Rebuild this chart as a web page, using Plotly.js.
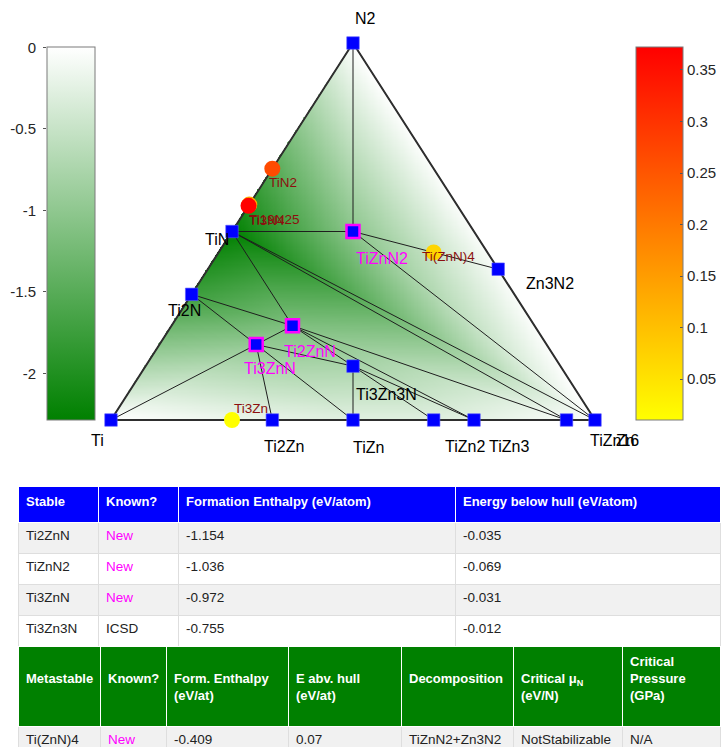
<!DOCTYPE html>
<html>
<head>
<meta charset="utf-8">
<script src="https://cdn.plot.ly/plotly-3.0.1.min.js"></script>
<style>html,body{margin:0;padding:0;background:#fff;overflow:hidden}</style>
</head>
<body>
<div id="chart" style="width:722px;height:747px"></div>
<script>
// ---------- Ti-Zn-N phase data ----------
// Phases on the convex hull: atoms of Ti, Zn, N per formula unit and formation enthalpy (eV/atom)
const hullPhases   = ['Ti', 'Zn', 'N2', 'TiN', 'Ti2N', 'Ti2Zn', 'TiZn', 'TiZn2', 'TiZn3', 'TiZn16', 'Zn3N2', 'TiZnN2', 'Ti2ZnN', 'Ti3ZnN', 'Ti3Zn3N'];
const hullTi       = [1, 0, 0, 1, 2, 2, 1, 1, 1, 1, 0, 1, 2, 3, 3];
const hullZn       = [0, 1, 0, 0, 0, 1, 1, 2, 3, 16, 3, 1, 1, 1, 3];
const hullN        = [0, 0, 2, 1, 1, 0, 0, 0, 0, 0, 2, 2, 1, 1, 1];
const hullEnthalpy = [0, 0, 0, -2.29, -1.75, -0.20, -0.27, -0.27, -0.24, -0.07, -0.06, -1.036, -1.154, -0.972, -0.755];

// Hull facets (tie triangles)
const facets = [
  ['N2', 'TiN', 'TiZnN2'], ['N2', 'TiZnN2', 'Zn3N2'], ['TiZnN2', 'Zn3N2', 'Zn'],
  ['TiN', 'TiZnN2', 'Zn'], ['TiN', 'Zn', 'TiZn16'], ['TiN', 'TiZn16', 'Ti2ZnN'],
  ['TiN', 'Ti2ZnN', 'Ti2N'], ['Ti2N', 'Ti2ZnN', 'Ti3ZnN'], ['Ti', 'Ti2N', 'Ti3ZnN'],
  ['Ti', 'Ti3ZnN', 'Ti2Zn'], ['Ti3ZnN', 'Ti2Zn', 'TiZn'], ['Ti3ZnN', 'TiZn', 'Ti3Zn3N'],
  ['Ti3ZnN', 'Ti3Zn3N', 'Ti2ZnN'], ['Ti2ZnN', 'Ti3Zn3N', 'TiZn3'], ['Ti2ZnN', 'TiZn3', 'TiZn16'],
  ['Ti3Zn3N', 'TiZn', 'TiZn2'], ['Ti3Zn3N', 'TiZn2', 'TiZn3']
];

// Metastable phases: atoms of Ti, Zn, N and energy above the hull (eV/atom)
const metaPhases    = ['TiN2', 'Ti3N4', 'Ti19N25', 'Ti(ZnN)4', 'Ti3Zn'];
const metaTi        = [1, 3, 19, 1, 3];
const metaZn        = [0, 0, 0, 4, 1];
const metaN         = [2, 4, 25, 4, 0];
const metaAboveHull = [0.265, 0.13, 0.372, 0.07, 0.01];

// Stable ternary table
const stableHeader    = ['Stable', 'Known?', 'Formation Enthalpy (eV/atom)', 'Energy below hull (eV/atom)'];
const stableRows      = ['Ti2ZnN', 'TiZnN2', 'Ti3ZnN', 'Ti3Zn3N'];
const stableKnown     = ['New', 'New', 'New', 'ICSD'];
const stableBelowHull = [-0.035, -0.069, -0.031, -0.012];

// Metastable ternary table
const metaHeader        = ['Metastable', 'Known?', 'Form. Enthalpy<br>(eV/at)', 'E abv. hull<br>(eV/at)', 'Decomposition', 'Critical μ<sub>N</sub><br>(eV/N)', 'Critical<br>Pressure<br>(GPa)'];
const metaRows          = ['Ti(ZnN)4'];
const metaKnown         = ['New'];
const metaEnthalpy      = [-0.409];
const metaDecomposition = ['TiZnN2+Zn3N2'];
const metaCriticalMu    = ['NotStabilizable'];
const metaCriticalP     = ['N/A'];

// Colour bar ticks
const enthalpyTicks = [0, -0.5, -1, -1.5, -2];
const enthalpyTickText = ['0', '-0.5', '-1', '-1.5', '-2'];
const hullTicks = [0.05, 0.1, 0.15, 0.2, 0.25, 0.3, 0.35];
const hullTickText = ['0.05', '0.1', '0.15', '0.2', '0.25', '0.3', '0.35'];

// ---------- page geometry and styling ----------
const W = 722, H = 747;
const triLeft = 111, triRight = 595, triBase = 420, triApex = 43, plotBottom = 460;
const sx = triRight - triLeft, sy = triBase - triApex;
const cbTop = 47.3, cbBottom = 420.7;
const FONT = 'Liberation Sans, Arial, sans-serif';
const NEW_COLOR = '#ff00ff';
const META_LABEL = 'rgb(140,15,15)';

// label offset (px) of left edge / vertical centre relative to its marker
const labelOffset = {
  'Ti': [-21, 20], 'Zn': [20, 20], 'N2': [1, -25], 'TiN': [-28, 8], 'Ti2N': [-25, 16],
  'Ti2Zn': [-9, 26], 'TiZn': [-1, 27], 'TiZn2': [10, 26], 'TiZn3': [14, 26], 'TiZn16': [22, 20],
  'Zn3N2': [27, 14], 'TiZnN2': [2, 26.5], 'Ti2ZnN': [-9.5, 26], 'Ti3ZnN': [-13, 23.5], 'Ti3Zn3N': [2, 28],
  'TiN2': [-4, 14], 'Ti3N4': [-1, 15.5], 'Ti19N25': [-0.5, 14], 'Ti(ZnN)4': [-13, 4.5], 'Ti3Zn': [1, -12]
};

// ---------- composition -> triangle coordinates ----------
function toXY(ti, zn, n) {
  const t = ti + zn + n;
  const fz = zn / t, fn = n / t;
  return [fz + fn / 2, fn];
}
const idx = {};
hullPhases.forEach((p, i) => { idx[p] = i; });
const hullXY = hullPhases.map((p, i) => toXY(hullTi[i], hullZn[i], hullN[i]));
const metaXY = metaPhases.map((p, i) => toXY(metaTi[i], metaZn[i], metaN[i]));
const knownOf = {};
stableRows.forEach((r, i) => { knownOf[r] = stableKnown[i]; });

// ---------- hull surface: linear interpolation of the enthalpy over each facet ----------
const zmin = Math.min(...hullEnthalpy), zmax = Math.max(...hullEnthalpy);
const nx = 420, ny = 330, tol = 0.002;
const gx = [], gy = [];
for (let i = 0; i < nx; i++) gx.push((i + 0.5) / nx);
for (let j = 0; j < ny; j++) gy.push((j + 0.5) / ny);
const tris = facets.map(f => f.map(n => idx[n]));
const gz = gy.map(py => gx.map(px => {
  const fn = py, fz = px - py / 2, ft = 1 - fz - fn;
  if (fn < -tol || fz < -tol || ft < -tol) return null;
  let best = -Infinity, val = null;
  for (const [a, b, c] of tris) {
    const [ax, ay] = hullXY[a], [bx, by] = hullXY[b], [cx, cy] = hullXY[c];
    const det = (by - cy) * (ax - cx) + (cx - bx) * (ay - cy);
    const l1 = ((by - cy) * (px - cx) + (cx - bx) * (py - cy)) / det;
    const l2 = ((cy - ay) * (px - cx) + (ax - cx) * (py - cy)) / det;
    const l3 = 1 - l1 - l2;
    const m = Math.min(l1, l2, l3);
    if (m > best) {
      best = m;
      val = l1 * hullEnthalpy[a] + l2 * hullEnthalpy[b] + l3 * hullEnthalpy[c];
    }
  }
  return val;
}));

// ---------- tie lines ----------
const edges = new Map();
facets.forEach(f => {
  for (let k = 0; k < 3; k++) {
    const a = f[k], b = f[(k + 1) % 3];
    edges.set([a, b].sort().join('|'), [a, b]);
  }
});
const tieX = [], tieY = [];
edges.forEach(([a, b]) => {
  tieX.push(hullXY[idx[a]][0], hullXY[idx[b]][0], null);
  tieY.push(hullXY[idx[a]][1], hullXY[idx[b]][1], null);
});
const frame = ['Ti', 'Zn', 'N2', 'Ti'];

const traces = [];
traces.push({
  type: 'heatmap', x: gx, y: gy, z: gz, zmin: zmin, zmax: zmax, zsmooth: false,
  colorscale: [[0, 'rgb(0,128,0)'], [1, 'rgb(255,255,255)']],
  hoverinfo: 'skip', showscale: true,
  colorbar: {
    x: 47 / W, xanchor: 'left', xpad: 0, y: 1 - cbTop / H, yanchor: 'top', ypad: 0,
    len: (cbBottom - cbTop) / H, lenmode: 'fraction', thickness: 48, thicknessmode: 'pixels',
    outlinewidth: 1, outlinecolor: '#7a7a7a', showticklabels: false, ticks: ''
  }
});
// scale axis beside the enthalpy colour bar
traces.push({ type: 'scatter', x: [0.5, 0.5], y: [zmin, zmax], xaxis: 'x2', yaxis: 'y2', mode: 'none', hoverinfo: 'skip' });
traces.push({ type: 'scatter', mode: 'lines', x: tieX, y: tieY, line: { color: '#1e1e1e', width: 1 }, hoverinfo: 'skip' });
traces.push({
  type: 'scatter', mode: 'lines',
  x: frame.map(p => hullXY[idx[p]][0]), y: frame.map(p => hullXY[idx[p]][1]),
  line: { color: '#2e2e2e', width: 2 }, hoverinfo: 'skip'
});
traces.push({
  type: 'scatter', mode: 'markers',
  x: hullXY.map(p => p[0]), y: hullXY.map(p => p[1]),
  marker: {
    symbol: 'square', color: 'rgb(0,0,255)', opacity: 1,
    size: hullPhases.map(p => knownOf[p] === 'New' ? 13 : 12.5),
    line: {
      color: hullPhases.map(p => knownOf[p] === 'New' ? NEW_COLOR : 'rgb(90,90,255)'),
      width: hullPhases.map(p => knownOf[p] === 'New' ? 2.5 : 0.6)
    }
  },
  hoverinfo: 'skip'
});
traces.push({
  type: 'scatter', mode: 'markers',
  x: metaXY.map(p => p[0]), y: metaXY.map(p => p[1]),
  marker: {
    symbol: 'circle', size: 16, opacity: 1, color: metaAboveHull,
    cmin: Math.min(...metaAboveHull), cmax: Math.max(...metaAboveHull),
    colorscale: [[0, 'rgb(255,255,0)'], [1, 'rgb(255,0,0)']],
    line: { width: 0 }, showscale: true,
    colorbar: {
      x: 636 / W, xanchor: 'left', xpad: 0, y: 1 - cbTop / H, yanchor: 'top', ypad: 0,
      len: (cbBottom - cbTop) / H, lenmode: 'fraction', thickness: 47, thicknessmode: 'pixels',
      outlinewidth: 1, outlinecolor: '#7a7a7a',
      tickvals: hullTicks, ticktext: hullTickText, ticks: 'inside', ticklen: 3, tickcolor: '#555',
      tickfont: { family: FONT, size: 15, color: '#262626' }
    }
  },
  hoverinfo: 'skip'
});

// ---------- tables ----------
const bold = s => s.split('<br>').map(l => '<b>' + l + '</b>').join('<br>');
const DATA_COLOR = '#222';
traces.push({
  type: 'table',
  domain: { x: [18 / W, 720 / W], y: [1 - 647 / H, 1 - 486 / H] },
  columnwidth: [80, 80, 277, 265],
  header: {
    values: stableHeader.map(bold), align: 'left', height: 36,
    fill: { color: 'rgb(0,0,255)' }, line: { color: '#ffffff', width: 1 },
    font: { family: FONT, size: 13, color: '#ffffff' }
  },
  cells: {
    values: [
      stableRows,
      stableKnown,
      stableRows.map(r => hullEnthalpy[idx[r]].toFixed(3)),
      stableBelowHull.map(v => v.toFixed(3))
    ],
    align: 'left', height: 31,
    fill: { color: [stableRows.map((r, i) => i % 2 ? '#ffffff' : '#f1f1f1')] },
    line: { color: '#dedede', width: 1 },
    font: { family: FONT, size: 13.5, color: [[DATA_COLOR], stableKnown.map(k => k === 'New' ? NEW_COLOR : DATA_COLOR), [DATA_COLOR], [DATA_COLOR]] }
  }
});
// header cells with fewer than three lines start one line lower so they sit mid-cell
traces.push({
  type: 'table',
  domain: { x: [18 / W, 720 / W], y: [0, 1 - 646 / H] },
  columnwidth: [82, 66, 122, 113, 112, 109, 98],
  header: {
    values: metaHeader.map(h => (h.split('<br>').length < 3 ? '\u00a0<br>' : '') + bold(h)),
    align: 'left', height: 80,
    fill: { color: 'rgb(0,128,0)' }, line: { color: '#ffffff', width: 1 },
    font: { family: FONT, size: 13, color: '#ffffff' }
  },
  cells: {
    values: [
      metaRows, metaKnown,
      metaEnthalpy.map(v => v.toFixed(3)),
      metaRows.map(r => String(metaAboveHull[metaPhases.indexOf(r)])),
      metaDecomposition, metaCriticalMu, metaCriticalP
    ],
    align: 'left', height: 31,
    fill: { color: '#f1f1f1' },
    line: { color: '#dedede', width: 1 },
    font: { family: FONT, size: 13.5, color: [[DATA_COLOR], metaKnown.map(k => k === 'New' ? NEW_COLOR : DATA_COLOR), [DATA_COLOR]] }
  }
});

// ---------- phase labels ----------
const annotations = [];
hullPhases.forEach((p, i) => {
  const [dx, dy] = labelOffset[p];
  annotations.push({
    x: hullXY[i][0], y: hullXY[i][1], xref: 'x', yref: 'y', text: p, showarrow: false,
    xanchor: 'left', yanchor: 'middle', xshift: dx, yshift: -dy, borderpad: 0,
    font: { family: FONT, size: 16, color: knownOf[p] === 'New' ? NEW_COLOR : '#000000' }
  });
});
metaPhases.forEach((p, i) => {
  const [dx, dy] = labelOffset[p];
  annotations.push({
    x: metaXY[i][0], y: metaXY[i][1], xref: 'x', yref: 'y', text: p, showarrow: false,
    xanchor: 'left', yanchor: 'middle', xshift: dx, yshift: -dy, borderpad: 0,
    font: { family: FONT, size: 13.5, color: META_LABEL }
  });
});

const layout = {
  width: W, height: H,
  margin: { l: 0, r: 0, t: 0, b: 0, pad: 0 },
  paper_bgcolor: '#ffffff', plot_bgcolor: 'rgba(0,0,0,0)',
  font: { family: FONT, color: '#262626' },
  showlegend: false, hovermode: false,
  xaxis: { domain: [0, 1], range: [-triLeft / sx, (W - triLeft) / sx], visible: false },
  yaxis: { domain: [1 - plotBottom / H, 1], range: [-(plotBottom - triBase) / sy, 1 + triApex / sy], visible: false },
  xaxis2: { domain: [47 / W, 95 / W], anchor: 'y2', range: [0, 1], visible: false },
  yaxis2: {
    domain: [1 - cbBottom / H, 1 - cbTop / H], anchor: 'x2', side: 'left',
    range: [zmin, zmax], tickvals: enthalpyTicks, ticktext: enthalpyTickText,
    ticks: 'outside', ticklen: 3, tickcolor: '#555', showgrid: false, zeroline: false, showline: false,
    tickfont: { family: FONT, size: 15, color: '#262626' }, ticklabelstandoff: 4
  },
  annotations: annotations
};

Plotly.newPlot('chart', traces, layout, { staticPlot: true, displayModeBar: false });
</script>
</body>
</html>
